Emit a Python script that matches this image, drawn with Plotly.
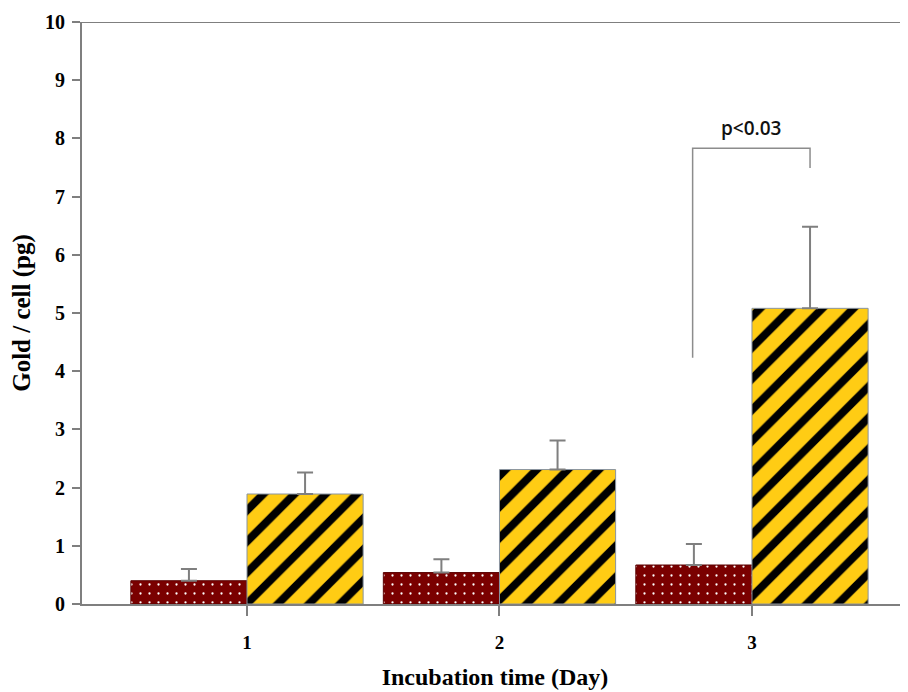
import plotly.graph_objects as go

days = [1, 2, 3]
day_labels = ["1", "2", "3"]
dark_vals = [0.40, 0.54, 0.67]
dark_err = [0.20, 0.23, 0.36]
gold_vals = [1.89, 2.31, 5.08]
gold_err = [0.37, 0.50, 1.40]
y_ticks = [0, 1, 2, 3, 4, 5, 6, 7, 8, 9, 10]

# significance bracket (data units)
br_x = [2.765, 2.765, 3.23, 3.23]
br_y = [4.23, 7.83, 7.83, 7.49]
p_text = "p<0.03"
p_y = 8.18

serif = "Liberation Serif"

fig = go.Figure()
fig.add_trace(go.Bar(
    x=days, y=dark_vals,
    marker=dict(color="#7a0000",
                line=dict(color="#5a0000", width=1),
                pattern=dict(shape=".", fgcolor="white", bgcolor="#7a0000",
                             fgopacity=1, size=9, solidity=0.05,
                             fillmode="replace")),
    error_y=dict(type="data", array=dark_err, arrayminus=[0, 0, 0],
                 symmetric=False, color="#7f7f7f", thickness=2, width=8),
    showlegend=False,
))
fig.add_trace(go.Bar(
    x=days, y=gold_vals,
    marker=dict(color="#ffcc14",
                line=dict(color="#8a94a0", width=1),
                pattern=dict(shape="/", fgcolor="black", bgcolor="#ffcc14",
                             fgopacity=1, size=22, solidity=0.36,
                             fillmode="replace")),
    error_y=dict(type="data", array=gold_err, arrayminus=[0, 0, 0],
                 symmetric=False, color="#7f7f7f", thickness=2, width=8),
    showlegend=False,
))

fig.add_trace(go.Scatter(
    x=br_x, y=br_y, mode="lines",
    line=dict(color="#8c8c8c", width=1.5),
    hoverinfo="skip", showlegend=False,
))

fig.add_annotation(x=(br_x[0] + br_x[-1]) / 2, y=p_y, text=p_text,
                   showarrow=False, xref="x", yref="y",
                   font=dict(family="Open Sans", size=19, color="#111111",
                             weight=600))

# top border line at y = 10
fig.add_shape(type="line", xref="x domain", yref="y", x0=0, x1=1, y0=10, y1=10,
              line=dict(color="#7f7f7f", width=2))

fig.update_layout(
    width=900, height=684,
    margin=dict(l=74, r=0, t=14, b=88),
    paper_bgcolor="white", plot_bgcolor="white",
    barmode="group", bargap=0.08, bargroupgap=0,
    xaxis=dict(
        range=[0.3465, 3.618],
        tickmode="array", tickvals=days, ticktext=day_labels,
        ticks="outside", ticklen=10, tickcolor="#7f7f7f", tickwidth=1.5,
        showline=True, linecolor="#7f7f7f", linewidth=2,
        showgrid=False, zeroline=False,
        tickfont=dict(family=serif, size=19, color="black", weight="bold"),
        ticklabelstandoff=10,
        title=dict(text="<b>Incubation time (Day)</b>",
                   font=dict(family=serif, size=24, color="black"),
                   standoff=16),
    ),
    yaxis=dict(
        range=[0, 10],
        tickmode="array", tickvals=y_ticks,
        ticks="outside", ticklen=8, tickcolor="#7f7f7f", tickwidth=2,
        showline=True, linecolor="#7f7f7f", linewidth=2,
        showgrid=False, zeroline=False,
        tickfont=dict(family=serif, size=20, color="black", weight="bold"),
        ticklabelstandoff=3,
        title=dict(text="<b>Gold / cell (pg)</b>",
                   font=dict(family=serif, size=25, color="black"),
                   standoff=16),
    ),
)

fig.write_html("out.html")
